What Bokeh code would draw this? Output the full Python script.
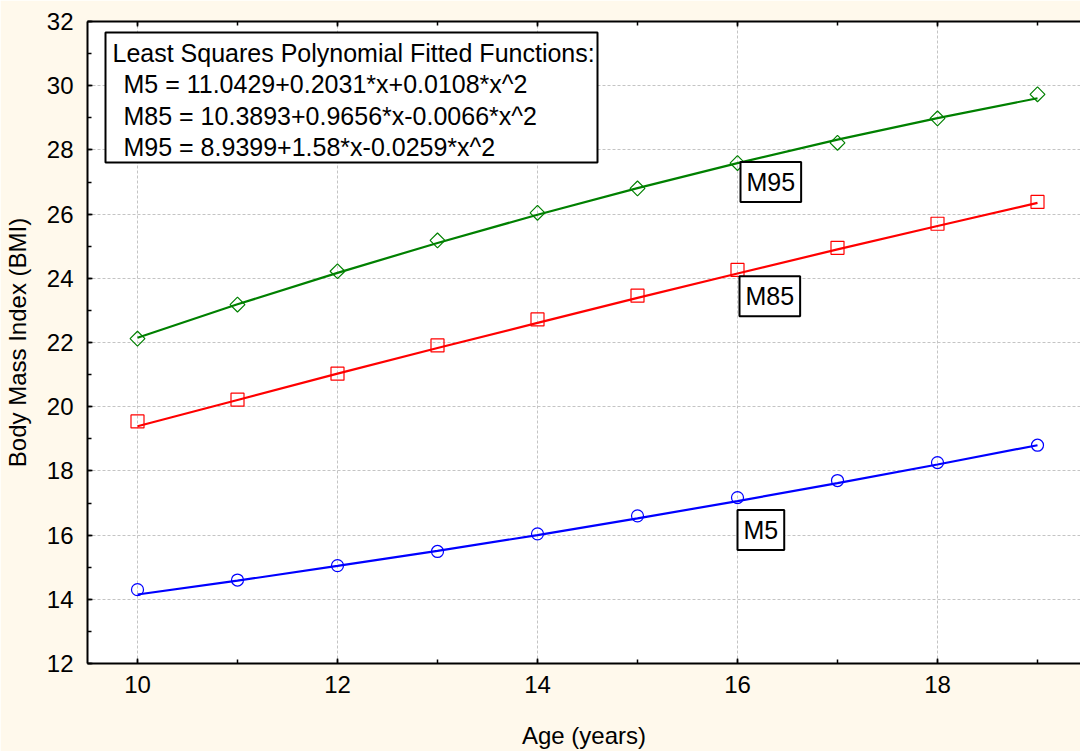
import math
from bokeh.plotting import figure
from bokeh.models import (Range1d, LinearAxis, SingleIntervalTicker, Label, BoxAnnotation)
from bokeh.embed import file_html
from bokeh.resources import INLINE

# ---------------- data ----------------
ages = [10, 11, 12, 13, 14, 15, 16, 17, 18, 19]
m5_obs = [14.30, 14.60, 15.05, 15.49, 16.04, 16.60, 17.17, 17.70, 18.26, 18.80]
m85_obs = [19.54, 20.22, 21.03, 21.91, 22.72, 23.46, 24.26, 24.95, 25.70, 26.38]
m95_obs = [22.12, 23.18, 24.22, 25.18, 26.04, 26.80, 27.59, 28.22, 28.98, 29.73]
m5_fit = [14.15, 14.58, 15.04, 15.51, 16.00, 16.52, 17.06, 17.62, 18.20, 18.80]
m85_fit = [19.39, 20.21, 21.03, 21.83, 22.61, 23.39, 24.15, 24.90, 25.63, 26.35]
m95_fit = [22.15, 23.19, 24.17, 25.10, 25.98, 26.81, 27.59, 28.32, 28.99, 29.61]
box_lines = ["Least Squares Polynomial Fitted Functions:",
             "M5 = 11.0429+0.2031*x+0.0108*x^2",
             "M85 = 10.3893+0.9656*x-0.0066*x^2",
             "M95 = 8.9399+1.58*x-0.0259*x^2"]
curve_names = ["M5", "M85", "M95"]

FONT = "Liberation Sans"
BG = "#FFF9EC"

p = figure(width=1080, height=751, output_backend="svg", toolbar_location=None,
           x_range=Range1d(9.5, 19.43), y_range=Range1d(12, 32),
           min_border_left=87, min_border_right=0, min_border_top=21, min_border_bottom=88,
           x_axis_label="Age (years)", y_axis_label="Body Mass Index (BMI)")
p.border_fill_color = BG
p.background_fill_color = "white"
p.outline_line_color = None

for ax in (p.xaxis[0], p.yaxis[0]):
    ax.ticker = SingleIntervalTicker(interval=2, num_minor_ticks=2)
    ax.axis_line_width = 2
    ax.axis_line_color = "black"
    ax.major_tick_in = 5
    ax.major_tick_out = 0
    ax.minor_tick_in = 4
    ax.minor_tick_out = 0
    ax.major_tick_line_width = 1.5
    ax.minor_tick_line_width = 1.5
    ax.major_label_text_font = FONT
    ax.major_label_text_font_size = "24px"
    ax.major_label_text_color = "black"
    ax.axis_label_text_font = FONT
    ax.axis_label_text_font_size = "24px"
    ax.axis_label_text_font_style = "normal"
    ax.axis_label_text_color = "black"

p.xaxis[0].major_label_standoff = 12
p.xaxis[0].axis_label_standoff = 26
p.yaxis[0].major_label_standoff = 14
p.yaxis[0].axis_label_standoff = 13

top = LinearAxis(ticker=SingleIntervalTicker(interval=2, num_minor_ticks=2))
top.axis_line_width = 2
top.major_tick_in = 5
top.major_tick_out = 0
top.minor_tick_in = 4
top.minor_tick_out = 0
top.major_tick_line_width = 1.5
top.minor_tick_line_width = 1.5
top.major_label_text_color = None
top.major_label_text_font_size = "10px"
top.major_label_standoff = 0
p.add_layout(top, "above")

p.xgrid.grid_line_color = "#c4c4c4"
p.ygrid.grid_line_color = "#c4c4c4"
p.xgrid.grid_line_dash = "3 2"
p.ygrid.grid_line_dash = "3 2"
p.xgrid.grid_line_width = 1
p.ygrid.grid_line_width = 1

# fitted curves
p.line(ages, m5_fit, line_color="#0000FF", line_width=2.2)
p.line(ages, m85_fit, line_color="#FF0000", line_width=2.2)
p.line(ages, m95_fit, line_color="#008000", line_width=2.2)

# observed points
p.scatter(ages, m5_obs, marker="circle", size=12, fill_color=None, line_color="#0000FF", line_width=1.2)
p.scatter(ages, m85_obs, marker="square", size=13, fill_color=None, line_color="#FF0000", line_width=1.2)
p.scatter(ages, m95_obs, marker="square", size=10.5, angle=math.pi / 4, fill_color=None,
          line_color="#008000", line_width=1.2)

# formula box
p.add_layout(BoxAnnotation(left=9.68, right=14.6, top=31.66, bottom=27.61,
                           fill_color="white", fill_alpha=1, line_color="black",
                           line_alpha=1, line_width=2))
ys = [31.03, 30.04, 29.07, 28.10]
xs = [9.75, 9.86, 9.86, 9.86]
for t, xx, yy in zip(box_lines, xs, ys):
    p.add_layout(Label(x=xx, y=yy, text=t, text_font=FONT, text_font_size="25px",
                       text_baseline="middle", text_align="left", text_color="black"))

# curve labels
label_pos = [(16.0, 16.78), (16.02, 24.06), (16.03, 27.62)]
for name, (xx, yy) in zip(curve_names, label_pos):
    p.add_layout(Label(x=xx, y=yy, text=name, text_font=FONT, text_font_size="25px",
                       anchor="top_left", text_color="black", padding=6,
                       background_fill_color="white", border_line_color="black",
                       border_line_width=2))

html = file_html(p, INLINE)
html = html.replace("<head>", "<head><style>body{margin:0;}</style>", 1)
open("out.html", "w").write(html)
